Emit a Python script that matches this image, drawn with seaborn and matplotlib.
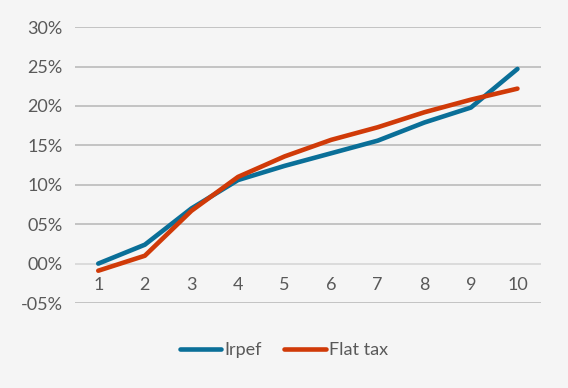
import seaborn as sns
import matplotlib
matplotlib.use("Agg")
import matplotlib.pyplot as plt
from matplotlib.ticker import FuncFormatter
import pandas as pd

# decile categories
deciles = [1, 2, 3, 4, 5, 6, 7, 8, 9, 10]
# values in percent
irpef = [0.0, 2.4, 7.0, 10.6, 12.4, 14.0, 15.6, 17.9, 19.8, 24.7]
flat_tax = [-0.9, 1.0, 6.7, 11.0, 13.6, 15.7, 17.3, 19.2, 20.8, 22.2]
series_names = ["Irpef", "Flat tax"]
y_ticks = [-5, 0, 5, 10, 15, 20, 25, 30]

bg = "#f5f5f5"
txt = "#595959"

sns.set_theme(style="white")
plt.rcParams['font.family'] = ['Lato', 'DejaVu Sans']

df = pd.DataFrame({
    "decile": [str(d) for d in deciles] * 2,
    "value": irpef + flat_tax,
    "serie": [series_names[0]] * len(deciles) + [series_names[1]] * len(deciles),
})

fig = plt.figure(figsize=(5.68, 3.88), dpi=100, facecolor=bg)
ax = fig.add_axes([0.132, 0.219, 0.820, 0.711])
ax.set_facecolor(bg)

# gridlines drawn first so lines sit on top
for t in y_ticks:
    ax.axhline(t, color="#d9d9d9" if t == 0 else "#bfbfbf", linewidth=1.3, zorder=0)

sns.lineplot(data=df, x="decile", y="value", hue="serie", sort=False,
             palette=["#0a6f98", "#d03a08"], linewidth=3.3, ax=ax,
             solid_capstyle="round")

ax.set_xlim(-0.5, len(deciles) - 0.5)
ax.set_ylim(-5, 30)
ax.set_yticks(y_ticks)
ax.yaxis.set_major_formatter(FuncFormatter(lambda v, p: ("-" if v < 0 else "") + f"{abs(int(v)):02d}%"))
ax.tick_params(axis="y", length=0, pad=9, labelsize=13, labelcolor=txt)
ax.tick_params(axis="x", length=0, pad=-19, labelsize=13, labelcolor=txt)
ax.set_xlabel("")
ax.set_ylabel("")
sns.despine(ax=ax, left=True, bottom=True)

ax.legend(loc="lower center", bbox_to_anchor=(0.5, 0.035), bbox_transform=fig.transFigure,
          ncol=2, frameon=False, fontsize=13, labelcolor=txt, handlelength=2.3,
          handletextpad=0.2, columnspacing=1.2)

fig.savefig("out.png", dpi=100, facecolor=bg)
